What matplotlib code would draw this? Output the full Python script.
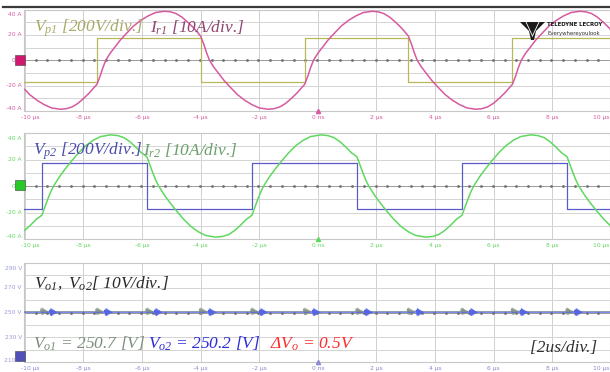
import matplotlib
matplotlib.use("Agg")
import matplotlib.pyplot as plt
from matplotlib.patches import Rectangle, Polygon
from matplotlib.lines import Line2D

plt.rcParams['mathtext.fontset'] = 'custom'
plt.rcParams['mathtext.rm'] = 'Liberation Serif:italic'
plt.rcParams['mathtext.it'] = 'Liberation Serif:italic'

# ---------------- data ----------------
x_ticks = [-10, -8, -6, -4, -2, 0, 2, 4, 6, 8, 10]
x_tick_labels = ["-10 µs", "-8 µs", "-6 µs", "-4 µs", "-2 µs", "0 ns", "2 µs", "4 µs", "6 µs", "8 µs", "10 µs"]
amp_ticks = [40, 20, 0, -20, -40]
amp_labels = ["40 A", "20 A", "0 A", "-20 A", "-40 A"]
volt_ticks = [290, 270, 250, 230, 210]
volt_labels = ["290 V", "270 V", "250 V", "230 V", "210 V"]

# Panel 1: primary voltage Vp1 (display units) and resonant current Ir1
vp1_t = [-10.1, -7.54, -7.54, -4.0, -4.0, -0.45, -0.45, 3.09, 3.09, 6.64, 6.64, 10.1]
vp1_v = [-17.0, -17.0, 17.3, 17.3, -17.0, -17.0, 17.3, 17.3, -17.0, -17.0, 17.3, 17.3]

ir1_t = [-10.00, -9.84, -9.59, -9.34, -9.09, -8.79, -8.59, -8.39, -8.19, -7.99, -7.79, -7.64,
         -7.54, -7.44, -7.34, -7.24, -7.09, -6.94, -6.74, -6.54, -6.29, -6.04, -5.79, -5.54, -5.24, -5.04, -4.84, -4.64, -4.44, -4.24, -4.09,
         -4.00, -3.90, -3.80, -3.70, -3.55, -3.40, -3.20, -3.00, -2.75, -2.50, -2.25, -2.00, -1.70, -1.50, -1.30, -1.10, -0.90, -0.70, -0.55,
         -0.45, -0.35, -0.25, -0.15, 0.00, 0.15, 0.35, 0.55, 0.80, 1.05, 1.30, 1.55, 1.85, 2.05, 2.25, 2.45, 2.65, 2.85, 3.00,
         3.09, 3.19, 3.29, 3.39, 3.54, 3.69, 3.89, 4.09, 4.34, 4.59, 4.84, 5.09, 5.39, 5.59, 5.79, 5.99, 6.19, 6.39, 6.54,
         6.64, 6.74, 6.84, 6.94, 7.09, 7.24, 7.44, 7.64, 7.89, 8.14, 8.39, 8.64, 8.94, 9.14, 9.34, 9.54, 9.74, 9.94, 10.09]
ir1_v = [-23, -27, -31.5, -35, -37.6, -38.6, -38.2, -36.8, -34, -30, -25.5, -21.5,
         -19, -13, -6, 0, 5.5, 10, 16, 21, 27, 31.5, 35, 37.6, 38.6, 38.2, 36.8, 34, 30, 25.5, 21.5,
         19, 13, 6, 0, -5.5, -10, -16, -21, -27, -31.5, -35, -37.6, -38.6, -38.2, -36.8, -34, -30, -25.5, -21.5,
         -19, -13, -6, 0, 5.5, 10, 16, 21, 27, 31.5, 35, 37.6, 38.6, 38.2, 36.8, 34, 30, 25.5, 21.5,
         19, 13, 6, 0, -5.5, -10, -16, -21, -27, -31.5, -35, -37.6, -38.6, -38.2, -36.8, -34, -30, -25.5, -21.5,
         -19, -13, -6, 0, 5.5, 10, 16, 21, 27, 31.5, 35, 37.6, 38.6, 38.2, 36.8, 34, 30, 25.5, 21.5]

# Panel 2: Vp2 and Ir2
vp2_t = [-10.1, -9.42, -9.42, -5.835, -5.835, -2.25, -2.25, 1.335, 1.335, 4.92, 4.92, 8.505, 8.505, 10.1]
vp2_v = [-17.6, -17.6, 17.6, 17.6, -17.6, -17.6, 17.6, 17.6, -17.6, -17.6, 17.6, 17.6, -17.6, -17.6]

ir2_t = [-10.0, -9.805, -9.605, -9.505,
         -9.42, -9.32, -9.22, -9.12, -9.02, -8.82, -8.62, -8.42, -8.17, -7.92, -7.67, -7.42, -7.07, -6.82, -6.62, -6.42, -6.22, -6.02, -5.92,
         -5.835, -5.735, -5.635, -5.535, -5.435, -5.235, -5.035, -4.835, -4.585, -4.335, -4.085, -3.835, -3.485, -3.235, -3.035, -2.835, -2.635, -2.435, -2.335,
         -2.25, -2.15, -2.05, -1.95, -1.85, -1.65, -1.45, -1.25, -1.0, -0.75, -0.5, -0.25, 0.1, 0.35, 0.55, 0.75, 0.95, 1.15, 1.25,
         1.335, 1.435, 1.535, 1.635, 1.735, 1.935, 2.135, 2.335, 2.585, 2.835, 3.085, 3.335, 3.685, 3.935, 4.135, 4.335, 4.535, 4.735, 4.835,
         4.92, 5.02, 5.12, 5.22, 5.32, 5.52, 5.72, 5.92, 6.17, 6.42, 6.67, 6.92, 7.27, 7.52, 7.72, 7.92, 8.12, 8.32, 8.42,
         8.505, 8.605, 8.705, 8.805, 8.905, 9.105, 9.305, 9.505, 9.755, 10.005, 10.255]
ir2_v = [-33.4, -29.5, -25, -23.5,
         -22, -16, -10, -4.5, 0, 7, 13, 18.5, 25, 30.5, 34.5, 37.3, 38.6, 38, 36.5, 33.5, 29.5, 25, 23.5,
         22, 16, 10, 4.5, 0, -7, -13, -18.5, -25, -30.5, -34.5, -37.3, -38.6, -38, -36.5, -33.5, -29.5, -25, -23.5,
         -22, -16, -10, -4.5, 0, 7, 13, 18.5, 25, 30.5, 34.5, 37.3, 38.6, 38, 36.5, 33.5, 29.5, 25, 23.5,
         22, 16, 10, 4.5, 0, -7, -13, -18.5, -25, -30.5, -34.5, -37.3, -38.6, -38, -36.5, -33.5, -29.5, -25, -23.5,
         -22, -16, -10, -4.5, 0, 7, 13, 18.5, 25, 30.5, 34.5, 37.3, 38.6, 38, 36.5, 33.5, 29.5, 25, 23.5,
         22, 16, 10, 4.5, 0, -7, -13, -18.5, -25, -30.5, -34.5]

# Panel 3: output voltages with switching ringing bursts
vo1_level = 250.7
vo2_level = 250.2
burst_times = [-9.42, -7.54, -5.835, -4.0, -2.25, -0.45, 1.335, 3.09, 4.92, 6.64, 8.505]
burst_dt = [0.0, 0.02, 0.04, 0.06, 0.08, 0.10, 0.12, 0.14, 0.16, 0.18, 0.20, 0.22, 0.24, 0.26, 0.28, 0.30]
burst_amp1 = [0, 2.5, -2.2, 3.0, -2.6, 2.4, -2.0, 1.8, -1.5, 1.2, -1.0, 0.8, -0.5, 0.3, -0.2, 0]
burst_amp2 = [0, 1.8, -2.4, 3.0, -2.8, 2.5, -2.2, 1.8, -1.5, 1.3, -1.0, 0.7, -0.5, 0.3, -0.2, 0]

# ---------------- styling ----------------
C_PINK = "#d65aa0"
C_OLIVE = "#b8b858"
C_GREEN = "#60d860"
C_BLUE = "#5a5ac8"
C_VO1 = "#8a9a86"
C_VO2 = "#5565e6"

W, H = 610, 372
fig = plt.figure(figsize=(6.10, 3.72), dpi=100)
fig.patch.set_facecolor("white")

def fx(px):
    return px / W

def fy(py):
    return 1 - py / H

fig.add_artist(Line2D([fx(3), 1], [fy(7), fy(7)], color="#3a3a3a", lw=1.6))

XL = (-10.03, 9.97)

def make_panel(top_px, bot_px, ylim, yticks, ylabels, ycolor, xcolor, grid_step, center):
    ax = fig.add_axes([fx(24), fy(bot_px), 1 - fx(24), (bot_px - top_px) / H])
    ax.set_xlim(*XL)
    ax.set_ylim(*ylim)
    ax.set_xticks([])
    ax.set_yticks([])
    for s in ax.spines.values():
        s.set_color("#c8c8c8")
        s.set_linewidth(0.8)
    for xt in x_ticks:
        ax.axvline(xt, color="#cfcfcf", lw=0.7, zorder=0)
    lo, hi = ylim
    v = lo + grid_step
    while v < hi - 1e-6:
        if abs(v - center) > 1e-6:
            ax.axhline(v, color="#d4d4d4", lw=0.7, zorder=0)
        v += grid_step
    ax.axhline(center, color="#9a9a9a", lw=0.7, zorder=0)
    dots_x = [XL[0] + 0.4 * k for k in range(1, 50)]
    ax.plot(dots_x, [center] * len(dots_x), ls="none", marker="s", ms=0.9, color="#707070", zorder=0)
    span = bot_px - top_px
    for i, (yt, lab) in enumerate(zip(yticks, ylabels)):
        yp = top_px + (hi - yt) / (hi - lo) * span
        if i == 0:
            yp += 5
        if i == len(yticks) - 1:
            yp -= 2
        fig.text(fx(22), fy(yp), lab, ha="right", va="center", fontsize=4.3, color=ycolor)
    for i, (xt, lab) in enumerate(zip(x_ticks, x_tick_labels)):
        xp = 24 + (xt - XL[0]) / (XL[1] - XL[0]) * (W - 24)
        ha = "center"
        if i == 0:
            xp += 5
        if i == len(x_ticks) - 1:
            xp = 609
            ha = "right"
        fig.text(fx(xp), fy(bot_px + 6.5), lab, ha=ha, va="center", fontsize=4.3, color=xcolor)
    ax.plot([0], [lo], marker="^", ms=3, color=xcolor, clip_on=False, zorder=5)
    return ax

ax1 = make_panel(9.5, 111, (-40, 40), amp_ticks, amp_labels, C_PINK, C_PINK, 10, 0)
ax2 = make_panel(133, 239, (-40, 40), amp_ticks, amp_labels, C_GREEN, C_GREEN, 10, 0)
ax3 = make_panel(263, 362, (210, 290), volt_ticks, volt_labels, "#9a9ad8", "#8a8ad0", 10, 250)

ax1.plot(vp1_t, vp1_v, color=C_OLIVE, lw=0.9, zorder=3)
ax1.plot(ir1_t, ir1_v, color=C_PINK, lw=1.1, zorder=4)
ax2.plot(vp2_t, vp2_v, color=C_BLUE, lw=0.9, zorder=3)
ax2.plot(ir2_t, ir2_v, color=C_GREEN, lw=1.1, zorder=4)

vo1_t, vo1_v, vo2_t, vo2_v = [XL[0]], [vo1_level], [XL[0]], [vo2_level]
for tb in burst_times:
    for d, a in zip(burst_dt, burst_amp1):
        vo1_t.append(tb - 0.05 + d)
        vo1_v.append(vo1_level + a)
    for d, a in zip(burst_dt, burst_amp2):
        vo2_t.append(tb + 0.25 + d)
        vo2_v.append(vo2_level + a)
vo1_t.append(10.1); vo1_v.append(vo1_level)
vo2_t.append(10.1); vo2_v.append(vo2_level)
ax3.plot(vo1_t, vo1_v, color=C_VO1, lw=0.6, zorder=3)
ax3.plot(vo2_t, vo2_v, color=C_VO2, lw=0.7, zorder=4)

def badge(xc, yc, color):
    fig.add_artist(Rectangle((fx(xc - 5), fy(yc + 5)), fx(10), 10 / H, facecolor=color,
                             edgecolor="#404040", lw=0.4, transform=fig.transFigure, zorder=6))

badge(20, 60, "#d0186e")
badge(20, 185, "#28c828")
badge(20, 356, "#5050b8")

tkw = dict(fontsize=12.5, family="Liberation Serif", style="italic")
fig.text(fx(34), fy(28), r"$V_{p1}$ [200V/div.]", color="#a8aa66", va="center", **tkw)
fig.text(fx(150), fy(28), r"$I_{r1}$ [10A/div.]", color="#8e4470", va="center", **tkw)
fig.text(fx(33), fy(151), r"$V_{p2}$ [200V/div.]", color="#4c4cae", va="center", **tkw)
fig.text(fx(143), fy(151), r"$I_{r2}$ [10A/div.]", color="#6aa06a", va="center", **tkw)
fig.text(fx(34), fy(283), r"$V_{o1},$ $V_{o2}$[ 10V/div.]", color="#2a2a2a", va="center", **tkw)
fig.text(fx(33), fy(344), r"$V_{o1}$ = 250.7 [V]", color="#7e8e7e", va="center", **tkw)
fig.text(fx(148), fy(344), r"$V_{o2}$ = 250.2 [V]", color="#2c2cd8", va="center", **tkw)
fig.text(fx(270), fy(344), "Δ" + r"$V_{o}$" + " = 0.5V", color="#ff2a2a", va="center", **tkw)
fig.text(fx(530), fy(348), "[2us/div.]", color="#303030", va="center", **tkw)

logo = Polygon([(fx(520), fy(22)), (fx(545), fy(22)), (fx(536), fy(31)), (fx(534), fy(40)),
                (fx(531), fy(40)), (fx(529), fy(31))], closed=True, facecolor="#1a1a1a",
               edgecolor="none", transform=fig.transFigure, zorder=7)
fig.add_artist(logo)
fig.add_artist(Line2D([fx(526), fx(532.5)], [fy(22), fy(36)], color="white", lw=0.6, zorder=8))
fig.add_artist(Line2D([fx(539), fx(532.5)], [fy(22), fy(36)], color="white", lw=0.6, zorder=8))
fig.text(fx(547), fy(25), "TELEDYNE LECROY", fontsize=3.9, weight="bold", color="#1a1a1a", va="center")
fig.text(fx(547), fy(33), "Everywhereyoulook", fontsize=3.9, color="#333333", va="center")

fig.savefig("out.png", dpi=100, facecolor="white")
